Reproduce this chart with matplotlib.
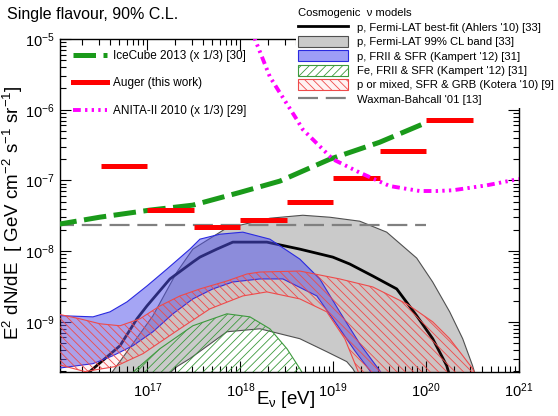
import numpy as np
import matplotlib
matplotlib.use('Agg')
import matplotlib.pyplot as plt
from matplotlib.lines import Line2D
from matplotlib.patches import Patch

plt.rcParams['font.family'] = ['Liberation Sans', 'DejaVu Sans']
plt.rcParams['mathtext.fontset'] = 'custom'
plt.rcParams['mathtext.rm'] = 'Liberation Sans'
plt.rcParams['mathtext.it'] = 'Liberation Sans:italic'
plt.rcParams['mathtext.bf'] = 'Liberation Sans:bold'
plt.rcParams['hatch.linewidth'] = 0.6

# ---------------- data (log10 E[eV], log10 E^2 dN/dE [GeV cm-2 s-1 sr-1]) ----------------
fermi_best_logE = [16.34, 16.706, 16.888, 16.996, 17.243, 17.490, 17.566, 17.748, 17.920, 18.286,
                   18.641, 18.996, 19.179, 19.426, 19.684, 19.899, 20.071, 20.222, 20.25]
fermi_best_logF = [-9.75, -9.338, -8.958, -8.775, -8.394, -8.155, -8.085, -7.972, -7.873, -7.873,
                   -7.972, -8.085, -8.183, -8.352, -8.535, -8.915, -9.239, -9.620, -9.75]

fermi_up_logE = [16.60, 16.781, 17.060, 17.318, 17.490, 17.834, 17.996, 18.319, 18.673, 18.964,
                 19.286, 19.576, 19.899, 20.071, 20.254, 20.394, 20.500, 20.53]
fermi_up_logF = [-9.75, -9.423, -8.915, -8.296, -7.972, -7.690, -7.634, -7.535, -7.493, -7.521,
                 -7.577, -7.732, -8.099, -8.437, -8.859, -9.239, -9.620, -9.75]
fermi_lo_logE = [17.22, 17.318, 17.458, 17.856, 18.211, 18.641, 18.931, 19.146, 19.211, 19.25]
fermi_lo_logF = [-9.75, -9.634, -9.521, -9.141, -9.099, -9.239, -9.423, -9.563, -9.662, -9.75]

fe_up_logE = [16.82, 16.888, 17.136, 17.490, 17.856, 18.104, 18.319, 18.502, 18.641, 18.68]
fe_up_logF = [-9.75, -9.662, -9.380, -9.056, -8.887, -8.930, -9.099, -9.380, -9.662, -9.75]

pfrii_up_logE = [16.0, 16.415, 16.598, 16.781, 16.996, 17.211, 17.458, 17.566, 17.781, 18.028,
                 18.319, 18.641, 18.856, 19.071, 19.286, 19.501, 19.53]
pfrii_up_logF = [-8.91, -8.930, -8.859, -8.718, -8.493, -8.254, -7.972, -7.831, -7.761, -7.732,
                 -7.831, -8.113, -8.394, -8.859, -9.310, -9.690, -9.75]
pfrii_lo_logE = [16.0, 16.168, 16.415, 16.630, 16.845, 17.060, 17.275, 17.490, 17.705, 17.920,
                 18.211, 18.459, 18.824, 19.071, 19.232, 19.394, 19.42]
pfrii_lo_logF = [-9.665, -9.634, -9.592, -9.479, -9.338, -9.141, -8.887, -8.676, -8.535, -8.437,
                 -8.394, -8.394, -8.634, -9.099, -9.408, -9.690, -9.75]

kotera_up_logE = [16.0, 16.275, 16.490, 16.706, 16.920, 17.136, 17.351, 17.566, 17.856, 18.071,
                  18.211, 18.641, 19.071, 19.426, 19.792, 20.071, 20.254, 20.394, 20.500, 20.53]
kotera_up_logF = [-8.88, -8.958, -9.028, -9.056, -8.958, -8.775, -8.634, -8.535, -8.423, -8.324,
                  -8.296, -8.282, -8.394, -8.507, -8.746, -9.0, -9.239, -9.479, -9.662, -9.75]
kotera_lo_logE = [16.0, 16.329, 16.652, 16.953, 17.318, 17.673, 18.028, 18.286, 18.641, 18.931,
                  19.125, 19.265, 19.28]
kotera_lo_logF = [-9.59, -9.704, -9.634, -9.451, -9.127, -8.817, -8.634, -8.577, -8.676, -8.859,
                  -9.239, -9.690, -9.75]

icecube_logE = [16.0, 16.490, 17.028, 17.490, 17.996, 18.426, 18.964, 19.501, 20.006]
icecube_logF = [-7.63, -7.52, -7.42, -7.35, -7.17, -7.01, -6.70, -6.46, -6.18]

anita_logE = [18.08, 18.157, 18.319, 18.426, 18.609, 18.673, 18.996, 19.286, 19.609, 19.931,
              20.114, 20.286, 20.651, 21.0]
anita_logF = [-4.85, -5.0, -5.535, -5.76, -6.14, -6.28, -6.70, -6.89, -7.08, -7.15,
              -7.15, -7.14, -7.07, -6.98]

auger_logE_lo = [16.5, 17.0, 17.5, 18.0, 18.5, 19.0, 19.5, 20.0]
auger_logE_hi = [17.0, 17.5, 18.0, 18.5, 19.0, 19.5, 20.0, 20.5]
auger_limit = [1.58e-7, 3.8e-8, 2.2e-8, 2.75e-8, 4.9e-8, 1.07e-7, 2.63e-7, 7.2e-7]

wb_logE = [16.0, 20.0]
wb_flux = [2.32e-8, 2.32e-8]

# ---------------- figure ----------------
fig = plt.figure(figsize=(5.58, 4.16), dpi=100)
ax = fig.add_axes([60/558, 1-372/416, (519-60)/558, (372-39)/416])
ax.set_xscale('log')
ax.set_yscale('log')


def P(a):
    return 10.0**np.asarray(a, dtype=float)


def band(up_e, up_f, lo_e=None, lo_f=None):
    if lo_e is None:
        return P(up_e), P(up_f)
    xs = np.r_[P(up_e), P(lo_e)[::-1]]
    ys = np.r_[P(up_f), P(lo_f)[::-1]]
    return xs, ys


GREEN_H = '#3d9a3d'
RED_H = '#ef4a4a'
BLUE_E = '#2a2ae0'

# gray Fermi band
gx, gy = band(fermi_up_logE, fermi_up_logF, fermi_lo_logE, fermi_lo_logF)
ax.fill(gx, gy, facecolor='#cacaca', edgecolor='#505050', linewidth=0.8, zorder=1)
# best fit
ax.plot(P(fermi_best_logE), P(fermi_best_logF), color='black', lw=2.0, zorder=1.5)
# Fe band (green hatch)
fx, fy = band(fe_up_logE, fe_up_logF)
ax.fill(fx, fy, facecolor='none', edgecolor=GREEN_H, hatch='////', linewidth=0.8, zorder=2)
# p FRII band (blue)
bx, by = band(pfrii_up_logE, pfrii_up_logF, pfrii_lo_logE, pfrii_lo_logF)
ax.fill(bx, by, facecolor=(0.33, 0.33, 0.92, 0.52), edgecolor='none', zorder=2.5)
ax.fill(bx, by, facecolor='none', edgecolor=BLUE_E, linewidth=0.8, zorder=2.6)
# Kotera band (red hatch)
rx, ry = band(kotera_up_logE, kotera_up_logF, kotera_lo_logE, kotera_lo_logF)
ax.fill(rx, ry, facecolor=(1, 0.4, 0.4, 0.08), edgecolor=RED_H, hatch='\\\\\\\\',
        linewidth=0.8, zorder=3)

# Waxman-Bahcall
ax.plot(P(wb_logE), wb_flux, color='#808080', lw=1.6, ls=(0, (9, 3.5)), zorder=4)
# IceCube
ax.plot(P(icecube_logE), P(icecube_logF), color='#1a9a1a', lw=3.6, ls=(0, (4.5, 1.5)), zorder=4)
# Auger
ax.hlines(auger_limit, P(auger_logE_lo), P(auger_logE_hi), color='#ff0000', lw=3.6, zorder=5)
# ANITA
anita_ls = (0, (2, 1.1, 0.6, 1.1, 0.6, 1.1, 0.6, 1.1))
ax.plot(P(anita_logE), P(anita_logF), color='#ff00ff', lw=2.8, ls=anita_ls, zorder=5)

ax.set_xlim(10**16.06, 1e21)
ax.set_ylim(10**-9.71, 1e-5)

ax.tick_params(which='both', direction='in', top=True, right=True, width=0.8)
ax.tick_params(which='major', length=8, labelsize=10.5, pad=4)
ax.tick_params(which='minor', length=4.5)
for s in ax.spines.values():
    s.set_linewidth(1.0)
ax.tick_params(axis='x', pad=7)

# labels
fig.text(7/558, 1-15/416, 'Single flavour, 90% C.L.', fontsize=11.5, va='center', ha='left')
fig.text(13/558, 1-213/416, r'E$^{2}$ dN/dE  [ GeV cm$^{-2}$ s$^{-1}$ sr$^{-1}$]',
         rotation=90, fontsize=13.5, va='center', ha='center')
fig.text(285/558, 1-400/416, r'E$_{\mathrm{ν}}$ [eV]', fontsize=13.5, va='center', ha='center')

# left legend
h_left = [Line2D([], [], color='#1a9a1a', lw=3.6, ls=(0, (4.5, 1.5))),
          Line2D([], [], color='#ff0000', lw=3.6),
          Line2D([], [], color='#ff00ff', lw=2.8, ls=anita_ls)]
l_left = ['IceCube 2013 (x 1/3) [30]', 'Auger (this work)', 'ANITA-II 2010 (x 1/3) [29]']
ax.legend(h_left, l_left, loc='upper left', bbox_to_anchor=(73/558, 1-50/416),
          bbox_transform=fig.transFigure, frameon=False, fontsize=8.5, handlelength=2.9,
          handletextpad=0.5, labelspacing=1.3, borderpad=0.0, borderaxespad=0)

# right legend
h_right = [Line2D([], [], color='black', lw=2.0),
           Patch(facecolor='#cacaca', edgecolor='#505050', lw=0.8),
           Patch(facecolor=(0.62, 0.62, 0.97), edgecolor=BLUE_E, lw=0.8),
           Patch(facecolor='white', edgecolor=GREEN_H, hatch='////', lw=0.8),
           Patch(facecolor='#fff2f2', edgecolor=RED_H, hatch='\\\\\\\\', lw=0.8),
           Line2D([], [], color='#808080', lw=1.6, ls=(0, (9, 3.5)))]
l_right = ["p, Fermi-LAT best-fit (Ahlers '10) [33]",
           "p, Fermi-LAT 99% CL band [33]",
           "p, FRII & SFR (Kampert '12) [31]",
           "Fe, FRII & SFR (Kampert '12) [31]",
           "p or mixed, SFR & GRB (Kotera '10) [9]",
           "Waxman-Bahcall '01 [13]"]
leg = fig.legend(h_right, l_right, loc='upper left', bbox_to_anchor=(290/558, 1.0),
                 bbox_transform=fig.transFigure, fontsize=8.1, title='Cosmogenic  ν models',
                 title_fontsize=8.1, alignment='left', frameon=True, facecolor='white',
                 edgecolor='none', framealpha=1, fancybox=False, handlelength=4.4,
                 handleheight=1.1, handletextpad=0.8, labelspacing=0.28, borderpad=0.25)
leg.set_zorder(10)

fig.savefig('out.png', dpi=100)
